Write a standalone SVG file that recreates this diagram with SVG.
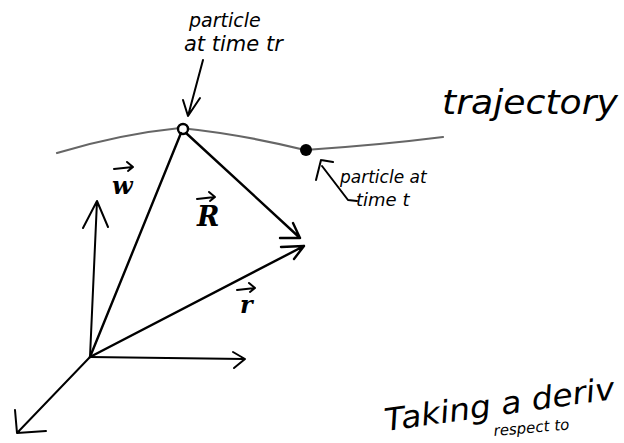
<svg xmlns="http://www.w3.org/2000/svg" width="624" height="443" viewBox="0 0 624 443">
<style>
.ln{fill:none;stroke:#000;stroke-width:2.4;stroke-linecap:round;stroke-linejoin:round}
.ax{fill:none;stroke:#000;stroke-width:2;stroke-linecap:round;stroke-linejoin:round}
.tr{fill:none;stroke:#666;stroke-width:2.2;stroke-linecap:round}
.hw{font-family:"DejaVu Sans","Liberation Sans",sans-serif;font-style:italic;fill:#000}
.vl{font-family:"DejaVu Serif","Liberation Serif",serif;font-style:italic;font-weight:bold;fill:#000}
</style>
<rect width="624" height="443" fill="#fff"/>
<g id="trajectory">
<path class="tr" d="M57,153 Q120,134 180,128 Q240,134 305,150 Q380,145 443,137"/>
<text class="hw" x="442" y="114" font-size="33" textLength="176" lengthAdjust="spacingAndGlyphs">trajectory</text>
</g>
<g id="particle-tr">
<circle cx="183" cy="129" r="5" fill="#fff" stroke="#000" stroke-width="2.4"/>
</g>
<g id="particle-t">
<circle cx="306" cy="150" r="6" fill="#000"/>
</g>
<g id="axes">
<path class="ax" d="M90,357 L97,201 M83,228 L97,201 L108,227"/>
<path class="ax" d="M90,357 L244,359 M233,352 L245,359 L234,368"/>
<path class="ax" d="M90,357 L17,433 M15,410 L17,433 L46,431"/>
</g>
<g id="connectors">
<path class="ln" d="M90,357 L181,133"/>
<path class="ln" d="M186,133 L300,238 M280,238 L300,238 L293,223"/>
<path class="ln" d="M90,357 L304,246 M281,247 L304,246 L294,259"/>
<path class="ax" d="M203,60 L188,116 M183,100 L188,116 L200,98"/>
<path class="ax" d="M321,160 L333,162 M321,160 L316,180 M322,166 L348,200 L357,201"/>
</g>
<g id="labels">
<text class="hw" x="189" y="27" font-size="19">particle</text>
<text class="hw" x="184" y="51" font-size="21">at time tr</text>
<text class="hw" x="340" y="183" font-size="17">particle at</text>
<text class="hw" x="356" y="206" font-size="18">time t</text>
<path class="ax" d="M114,169 L133,167 M127,162 L133,167 L128,171"/>
<text class="vl" x="112" y="194" font-size="24">w</text>
<path class="ax" d="M197,199 L215,197 M209,192 L215,197 L210,201"/>
<text class="vl" x="197" y="226" font-size="27">R</text>
<path class="ax" d="M237,290 L255,288 M249,283 L255,288 L250,292"/>
<text class="vl" x="240" y="313" font-size="24">r</text>
<text class="hw" x="386" y="431" font-size="31" textLength="232" lengthAdjust="spacingAndGlyphs" transform="rotate(-8 386 431)">Taking a deriv</text>
<text class="hw" x="494" y="436" font-size="15" transform="rotate(-5 494 436)">respect to</text>
</g>
</svg>
